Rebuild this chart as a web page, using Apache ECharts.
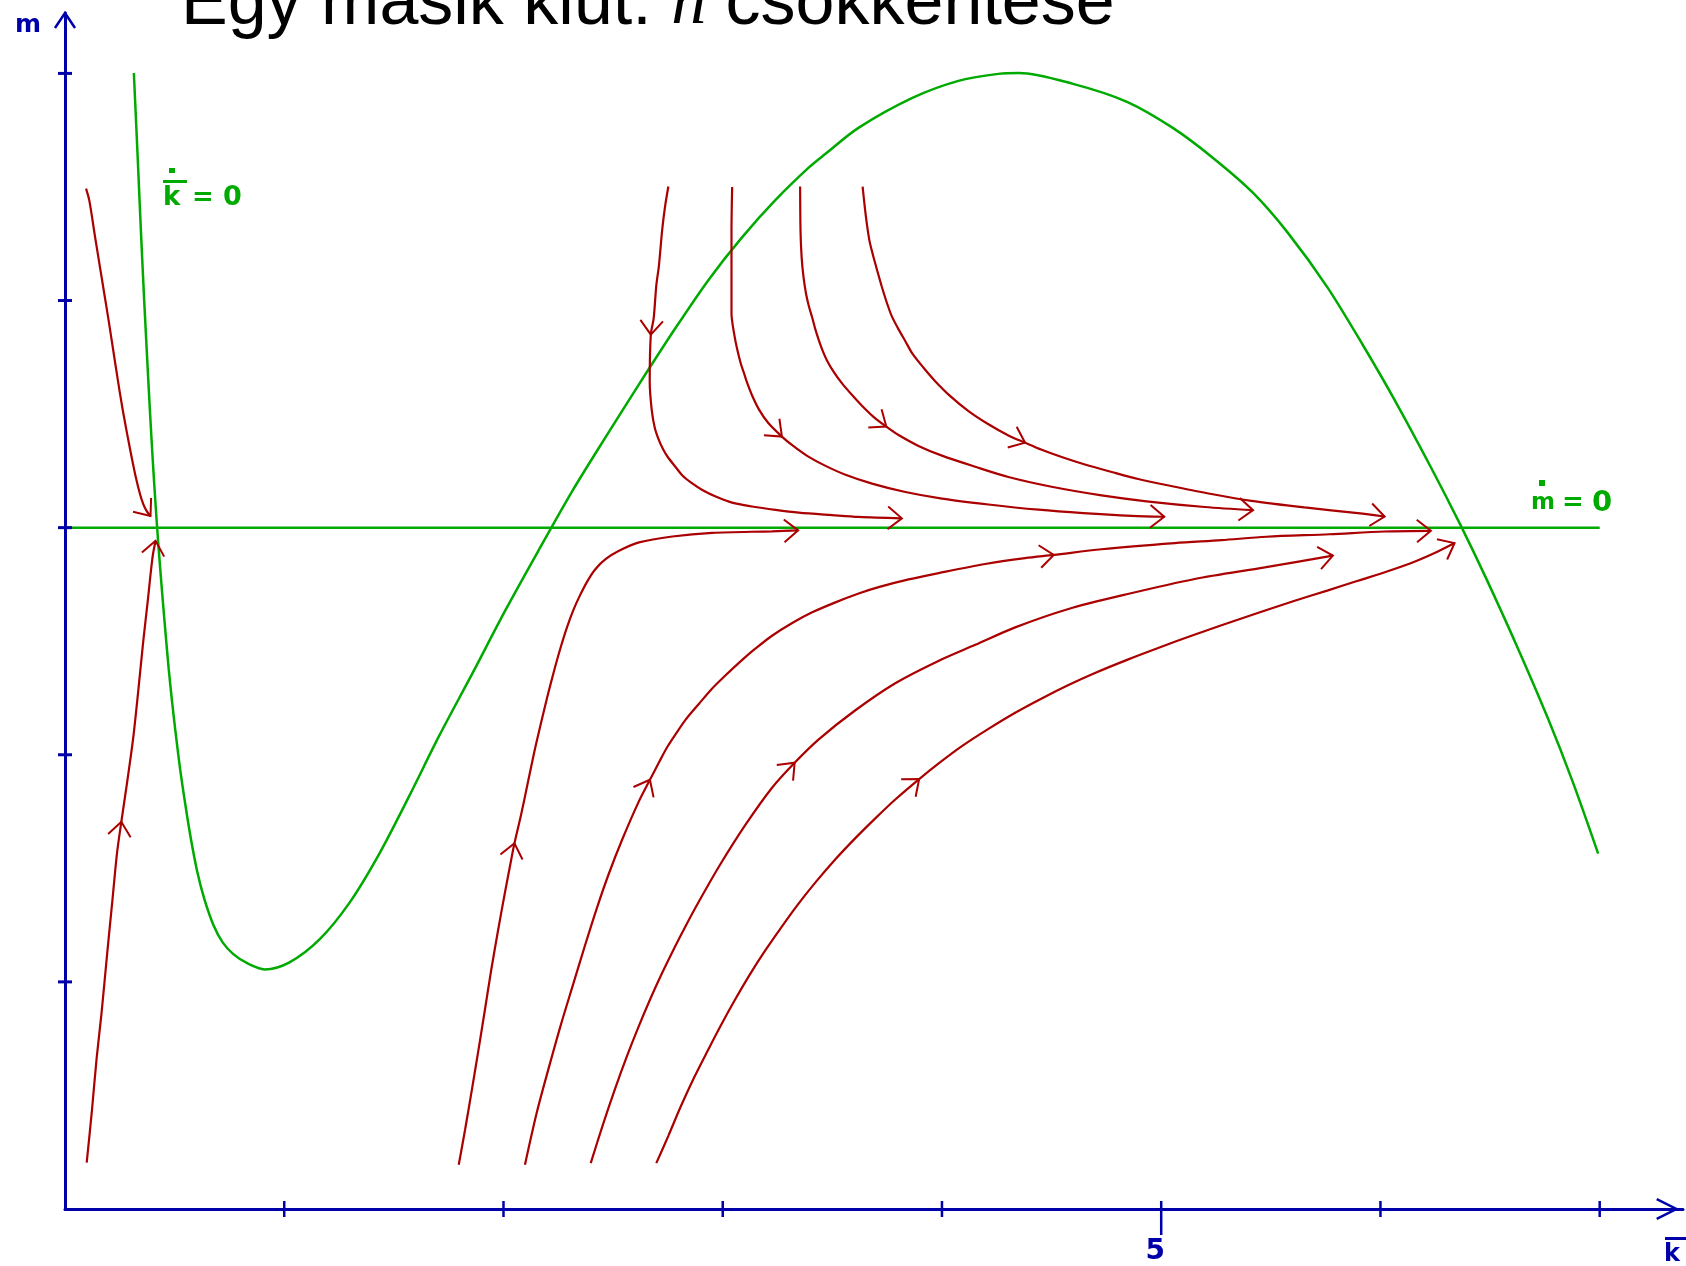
<!DOCTYPE html>
<html>
<head>
<meta charset="utf-8">
<title>Egy másik kiút: n csökkentése</title>
<script src="https://cdn.jsdelivr.net/npm/echarts@6/dist/echarts.min.js"></script>
<style>
  html, body { margin: 0; padding: 0; background: #ffffff; }
  #chart { width: 1686px; height: 1266px; }
</style>
</head>
<body>
<div id="chart"></div>
<script>
// Phase diagram: k-bar on the horizontal axis, m on the vertical axis.

// Tick positions
const xTicks = [1, 2, 3, 4, 5, 6, 7];
const xLabelled = [5];
const yTicks = [1, 2, 3, 4, 5];
const xMax = 7.38;
const yMax = 5.266;

// Isoclines
const kDotZero = [
  [0.314, 5.002], [0.330, 4.664], [0.346, 4.312], [0.361, 4.004], [0.375, 3.741],
  [0.387, 3.521], [0.400, 3.301], [0.413, 3.103], [0.424, 2.949], [0.438, 2.774],
  [0.453, 2.598], [0.473, 2.378], [0.490, 2.220], [0.504, 2.101], [0.525, 1.938],
  [0.549, 1.780], [0.574, 1.631], [0.603, 1.486], [0.635, 1.367], [0.678, 1.248],
  [0.719, 1.174], [0.769, 1.121], [0.833, 1.081], [0.911, 1.055], [1.024, 1.086],
  [1.161, 1.187], [1.298, 1.349], [1.434, 1.565], [1.571, 1.820], [1.707, 2.084],
  [1.857, 2.356], [2.012, 2.642], [2.163, 2.905], [2.313, 3.160], [2.468, 3.402],
  [2.618, 3.631], [2.786, 3.881], [2.936, 4.092], [3.087, 4.277], [3.242, 4.444],
  [3.392, 4.585], [3.469, 4.646], [3.619, 4.760], [3.865, 4.892], [4.075, 4.967],
  [4.257, 4.998], [4.352, 5.002], [4.598, 4.954], [4.844, 4.875], [5.053, 4.760],
  [5.235, 4.629], [5.418, 4.475], [5.577, 4.299], [5.759, 4.057], [5.921, 3.802],
  [6.063, 3.565], [6.230, 3.266], [6.367, 3.008], [6.480, 2.781], [6.624, 2.475],
  [6.761, 2.167], [6.875, 1.886], [6.993, 1.565]
];
const mDotZero = [[0, 3], [7, 3]];

// Trajectories; a third value of 1 marks an arrowhead at that point
const trajA = [
  [0.096, 4.493], [0.111, 4.440], [0.137, 4.281], [0.158, 4.156], [0.179, 4.031],
  [0.200, 3.906], [0.220, 3.781], [0.240, 3.656], [0.261, 3.531], [0.283, 3.415],
  [0.304, 3.310], [0.323, 3.222], [0.342, 3.148], [0.357, 3.104], [0.372, 3.074],
  [0.390, 3.051, 1]
];
const trajB = [
  [0.099, 0.204], [0.122, 0.425], [0.144, 0.661], [0.167, 0.866], [0.193, 1.131],
  [0.217, 1.367], [0.238, 1.573], [0.257, 1.705, 1], [0.285, 1.890], [0.311, 2.073],
  [0.334, 2.280], [0.357, 2.500], [0.379, 2.691], [0.399, 2.868], [0.413, 2.942, 1]
];
const trajC = [
  [2.752, 4.502], [2.737, 4.414], [2.724, 4.312], [2.709, 4.154], [2.697, 4.066],
  [2.685, 3.921], [2.672, 3.850, 1], [2.667, 3.642], [2.676, 3.520], [2.690, 3.440],
  [2.709, 3.385], [2.728, 3.345], [2.750, 3.310], [2.786, 3.266], [2.816, 3.230],
  [2.861, 3.195], [2.907, 3.166], [2.968, 3.137], [3.043, 3.110], [3.134, 3.093],
  [3.241, 3.078], [3.347, 3.066], [3.499, 3.055], [3.620, 3.047], [3.817, 3.041, 1]
];
const trajD = [
  [3.043, 4.500], [3.040, 4.300], [3.040, 3.944], [3.054, 3.843], [3.066, 3.785],
  [3.082, 3.724], [3.097, 3.680], [3.112, 3.636], [3.134, 3.582], [3.165, 3.521],
  [3.207, 3.462], [3.270, 3.401, 1], [3.317, 3.363], [3.385, 3.316], [3.469, 3.272],
  [3.560, 3.233], [3.681, 3.194], [3.833, 3.157], [4.000, 3.128], [4.212, 3.102],
  [4.440, 3.079], [4.645, 3.064], [4.865, 3.052], [5.014, 3.048, 1]
];
const trajE = [
  [3.353, 4.502], [3.355, 4.300], [3.360, 4.190], [3.368, 4.107], [3.380, 4.030],
  [3.393, 3.975], [3.408, 3.925], [3.426, 3.862], [3.449, 3.796], [3.476, 3.735],
  [3.510, 3.680], [3.546, 3.633], [3.590, 3.584], [3.635, 3.537], [3.689, 3.487],
  [3.746, 3.445, 1], [3.802, 3.408], [3.893, 3.360], [4.000, 3.317], [4.152, 3.268],
  [4.303, 3.223], [4.500, 3.180], [4.728, 3.142], [4.933, 3.116], [5.199, 3.091],
  [5.419, 3.077, 1]
];
const trajF = [
  [3.638, 4.502], [3.653, 4.371], [3.669, 4.265], [3.684, 4.205], [3.698, 4.155],
  [3.711, 4.110], [3.725, 4.063], [3.739, 4.019], [3.754, 3.975], [3.772, 3.929],
  [3.802, 3.873], [3.833, 3.821], [3.866, 3.765], [3.916, 3.704], [3.969, 3.645],
  [4.038, 3.579], [4.121, 3.513], [4.212, 3.455], [4.303, 3.406], [4.379, 3.374, 1],
  [4.455, 3.343], [4.546, 3.311], [4.652, 3.278], [4.774, 3.245], [4.895, 3.214],
  [5.062, 3.180], [5.229, 3.148], [5.411, 3.118], [5.654, 3.089], [5.897, 3.064],
  [6.019, 3.049, 1]
];
const trajG = [
  [1.796, 0.195], [1.825, 0.350], [1.855, 0.520], [1.885, 0.695], [1.915, 0.875],
  [1.945, 1.058], [1.975, 1.225], [2.005, 1.385], [2.035, 1.537], [2.050, 1.610, 1],
  [2.080, 1.735], [2.110, 1.872], [2.140, 2.010], [2.170, 2.135], [2.200, 2.255],
  [2.230, 2.367], [2.260, 2.470], [2.290, 2.562], [2.320, 2.640], [2.350, 2.704],
  [2.385, 2.768], [2.420, 2.818], [2.467, 2.862], [2.527, 2.898], [2.618, 2.935],
  [2.770, 2.961], [2.952, 2.977], [3.225, 2.984], [3.344, 2.988, 1]
];
const trajH = [
  [2.098, 0.195], [2.153, 0.429], [2.209, 0.630], [2.262, 0.812], [2.318, 0.990],
  [2.371, 1.158], [2.426, 1.325], [2.480, 1.475], [2.542, 1.628], [2.618, 1.796],
  [2.668, 1.890, 1], [2.710, 1.968], [2.747, 2.034], [2.786, 2.092], [2.831, 2.155],
  [2.892, 2.225], [2.952, 2.292], [3.013, 2.350], [3.089, 2.418], [3.150, 2.468],
  [3.225, 2.524], [3.317, 2.580], [3.408, 2.627], [3.514, 2.671], [3.620, 2.710],
  [3.711, 2.738], [3.848, 2.772], [3.985, 2.800], [4.197, 2.840], [4.379, 2.866],
  [4.510, 2.880, 1], [4.728, 2.905], [5.062, 2.932], [5.275, 2.945], [5.480, 2.960],
  [5.768, 2.971], [6.019, 2.983], [6.230, 2.986, 1]
];
const trajI = [
  [2.398, 0.202], [2.451, 0.364], [2.508, 0.527], [2.561, 0.668], [2.615, 0.800],
  [2.672, 0.930], [2.724, 1.040], [2.781, 1.153], [2.834, 1.252], [2.892, 1.355],
  [2.983, 1.508], [3.104, 1.692], [3.225, 1.855], [3.328, 1.965, 1], [3.438, 2.068],
  [3.605, 2.196], [3.787, 2.315], [3.977, 2.410], [4.152, 2.484], [4.334, 2.561],
  [4.577, 2.642], [4.835, 2.705], [5.153, 2.774], [5.472, 2.825], [5.783, 2.877, 1]
];
const trajJ = [
  [2.697, 0.202], [2.752, 0.322], [2.808, 0.450], [2.869, 0.578], [2.933, 0.700],
  [2.990, 0.806], [3.054, 0.918], [3.122, 1.030], [3.188, 1.130], [3.264, 1.236],
  [3.339, 1.336], [3.423, 1.438], [3.514, 1.540], [3.605, 1.633], [3.696, 1.720],
  [3.787, 1.803], [3.896, 1.893, 1], [3.985, 1.962], [4.091, 2.038], [4.212, 2.114],
  [4.334, 2.185], [4.455, 2.248], [4.577, 2.307], [4.698, 2.360], [4.850, 2.420],
  [4.986, 2.470], [5.138, 2.524], [5.275, 2.570], [5.457, 2.630], [5.609, 2.678],
  [5.761, 2.724], [5.897, 2.766], [6.033, 2.808], [6.155, 2.850], [6.262, 2.895],
  [6.338, 2.932, 1]
];

const trajectories = [trajA, trajB, trajC, trajD, trajE, trajF, trajG, trajH, trajI, trajJ];

const RED = '#aa0000';
const GREEN = '#00aa00';
const BLUE = '#0000aa';

// Arrowheads: tip plus neighbouring points that give the heading
const arrowData = [];
trajectories.forEach(t => {
  t.forEach((p, i) => {
    if (p[2] === 1) {
      const a = t[i - 1] || p;
      const b = t[i + 1] || p;
      arrowData.push([p[0], p[1], a[0], a[1], b[0], b[1]]);
    }
  });
});

function chevron(tip, angle, len, half) {
  return [
    [tip[0] - len * Math.cos(angle - half), tip[1] - len * Math.sin(angle - half)],
    tip,
    [tip[0] - len * Math.cos(angle + half), tip[1] - len * Math.sin(angle + half)]
  ];
}

const chart = echarts.init(document.getElementById('chart'), null, { renderer: 'canvas' });

const series = [];

series.push({
  name: 'k_dot_zero', type: 'line', data: kDotZero, smooth: 0.3,
  showSymbol: false, symbol: 'none', silent: true, z: 2,
  lineStyle: { color: GREEN, width: 2.5 }
});
series.push({
  name: 'm_dot_zero', type: 'line', data: mDotZero,
  showSymbol: false, symbol: 'none', silent: true, z: 2,
  lineStyle: { color: GREEN, width: 2.5 }
});

trajectories.forEach((t, idx) => {
  series.push({
    name: 'traj' + idx, type: 'line', data: t.map(p => [p[0], p[1]]), smooth: 0.3,
    showSymbol: false, symbol: 'none', silent: true, z: 3,
    lineStyle: { color: RED, width: 2.2 }
  });
});

series.push({
  name: 'arrowheads', type: 'custom', data: arrowData, silent: true, z: 4, clip: false,
  encode: { x: 0, y: 1 },
  renderItem: function (params, api) {
    const tip = api.coord([api.value(0), api.value(1)]);
    const a = api.coord([api.value(2), api.value(3)]);
    const b = api.coord([api.value(4), api.value(5)]);
    const ang = Math.atan2(b[1] - a[1], b[0] - a[0]);
    return {
      type: 'polyline',
      shape: { points: chevron(tip, ang, 18, 0.68) },
      style: { stroke: RED, lineWidth: 2, fill: null }
    };
  }
});

// Axis ticks that straddle the axis lines
series.push({
  name: 'xTicks', type: 'custom', data: xTicks.map(v => [v, 0]), silent: true, z: 5, clip: false,
  encode: { x: 0, y: 1 },
  renderItem: function (params, api) {
    const v = api.value(0);
    const p = api.coord([v, 0]);
    const down = xLabelled.indexOf(v) >= 0 ? 26 : 8;
    return {
      type: 'line',
      shape: { x1: p[0], y1: p[1] - 8, x2: p[0], y2: p[1] + down },
      style: { stroke: BLUE, lineWidth: 2.5 }
    };
  }
});
series.push({
  name: 'yTicks', type: 'custom', data: yTicks.map(v => [0, v]), silent: true, z: 5, clip: false,
  encode: { x: 0, y: 1 },
  renderItem: function (params, api) {
    const p = api.coord([0, api.value(1)]);
    return {
      type: 'line',
      shape: { x1: p[0] - 7, y1: p[1], x2: p[0] + 7, y2: p[1] },
      style: { stroke: BLUE, lineWidth: 3 }
    };
  }
});

// Open arrowheads at the ends of both axes
series.push({
  name: 'axisArrows', type: 'custom', silent: true, z: 5, clip: false,
  data: [[xMax - 0.03, 0, 0], [0, yMax, 1]],
  encode: { x: 0, y: 1 },
  renderItem: function (params, api) {
    const tip = api.coord([api.value(0), api.value(1)]);
    const vertical = api.value(2) === 1;
    const pts = vertical ? chevron(tip, -Math.PI / 2, 18, 0.59) : chevron(tip, 0, 22, 0.46);
    return {
      type: 'polyline',
      shape: { points: pts },
      style: { stroke: BLUE, lineWidth: 2.5, fill: null }
    };
  }
});

const option = {
  animation: false,
  backgroundColor: '#ffffff',
  grid: { left: 65, right: 0, top: 13, bottom: 55, containLabel: false },
  xAxis: {
    type: 'value', min: 0, max: xMax, interval: 1,
    axisLine: { show: true, onZero: false, lineStyle: { color: BLUE, width: 3 } },
    axisTick: { show: false },
    splitLine: { show: false },
    axisLabel: {
      show: true, margin: 29, padding: [0, 12, 0, 0],
      color: BLUE, fontFamily: 'DejaVu Sans', fontWeight: 'bold', fontSize: 28,
      formatter: v => (xLabelled.indexOf(v) >= 0 ? String(v) : '')
    }
  },
  yAxis: {
    type: 'value', min: 0, max: yMax, interval: 1,
    axisLine: { show: true, onZero: false, lineStyle: { color: BLUE, width: 3 } },
    axisTick: { show: false },
    splitLine: { show: false },
    axisLabel: { show: false }
  },
  graphic: [
    {
      type: 'text', x: 181, y: 5, z: 10, silent: true,
      style: {
        text: '{a|Egy másik kiút: }{n|n}{a| csökkentése}',
        verticalAlign: 'middle',
        rich: {
          a: { fontFamily: 'Liberation Sans, Arial, sans-serif', fontSize: 70, fill: '#000000' },
          n: { fontFamily: 'Liberation Serif, Times New Roman, serif', fontStyle: 'italic', fontSize: 70, fill: '#000000' }
        }
      }
    },
    // axis names
    { type: 'text', x: 15, y: 25, silent: true,
      style: { text: 'm', fontFamily: 'DejaVu Sans', fontWeight: 'bold', fontSize: 25, fill: BLUE, verticalAlign: 'middle' } },
    { type: 'text', x: 1664, y: 1255, silent: true,
      style: { text: 'k', fontFamily: 'DejaVu Sans', fontWeight: 'bold', fontSize: 24, fill: BLUE, verticalAlign: 'middle' } },
    { type: 'rect', silent: true, shape: { x: 1665, y: 1237, width: 21, height: 3 }, style: { fill: BLUE } },
    // k-dot = 0 label
    { type: 'rect', silent: true, shape: { x: 169, y: 168, width: 6, height: 5 }, style: { fill: GREEN } },
    { type: 'rect', silent: true, shape: { x: 163, y: 180, width: 24, height: 3 }, style: { fill: GREEN } },
    { type: 'text', x: 163, y: 198, silent: true,
      style: { text: 'k', fontFamily: 'DejaVu Sans', fontWeight: 'bold', fontSize: 26, fill: GREEN, verticalAlign: 'middle' } },
    { type: 'text', x: 192, y: 198, silent: true,
      style: { text: '=', fontFamily: 'DejaVu Sans', fontWeight: 'bold', fontSize: 26, fill: GREEN, verticalAlign: 'middle' } },
    { type: 'text', x: 223, y: 198, silent: true,
      style: { text: '0', fontFamily: 'DejaVu Sans', fontWeight: 'bold', fontSize: 27, fill: GREEN, verticalAlign: 'middle' } },
    // m-dot = 0 label
    { type: 'rect', silent: true, shape: { x: 1539, y: 480, width: 6, height: 6 }, style: { fill: GREEN } },
    { type: 'text', x: 1531, y: 503, silent: true,
      style: { text: 'm', fontFamily: 'DejaVu Sans', fontWeight: 'bold', fontSize: 23, fill: GREEN, verticalAlign: 'middle' } },
    { type: 'text', x: 1562, y: 503, silent: true,
      style: { text: '=', fontFamily: 'DejaVu Sans', fontWeight: 'bold', fontSize: 26, fill: GREEN, verticalAlign: 'middle' } },
    { type: 'text', x: 1592, y: 503, silent: true,
      style: { text: '0', fontFamily: 'DejaVu Sans', fontWeight: 'bold', fontSize: 29, fill: GREEN, verticalAlign: 'middle' } }
  ],
  series: series
};

chart.setOption(option);
</script>
</body>
</html>
